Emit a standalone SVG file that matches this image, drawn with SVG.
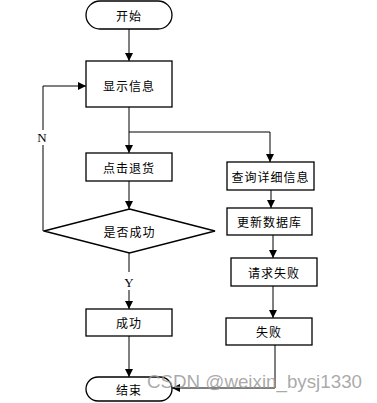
<svg xmlns="http://www.w3.org/2000/svg" width="377" height="403" viewBox="0 0 377 403">
<style>
.n{fill:#fff;stroke:#000;stroke-width:1.3}
.t{font-family:"Noto Sans CJK SC","Liberation Sans",sans-serif;font-size:12px;fill:#000;text-anchor:middle;dominant-baseline:central;letter-spacing:1px}
.l{font-family:"Liberation Serif",serif;font-size:13px;fill:#000;text-anchor:middle;dominant-baseline:central}
.c{fill:none;stroke:#000;stroke-width:1}
.w{font-family:"Liberation Sans",Arial,sans-serif;font-size:19px;fill:#9a9a9a;fill-opacity:0.85}
</style>
<defs>
<marker id="a" viewBox="0 0 10 10" refX="10" refY="5" markerWidth="8" markerHeight="8" markerUnits="userSpaceOnUse" orient="auto">
<path d="M0,0 L10,5 L0,10 z" fill="#000"/>
</marker>
</defs>
<rect width="377" height="403" fill="#fff"/>
<g id="connectors">
<path class="c" d="M129,29 V61" marker-end="url(#a)"/>
<path class="c" d="M129,107 V153" marker-end="url(#a)"/>
<path class="c" d="M129,132 H270 V162" marker-end="url(#a)"/>
<path class="c" d="M129,181 V209" marker-end="url(#a)"/>
<path class="c" d="M44,231 H43 V145"/>
<path class="c" d="M43,130 V86 H86" marker-end="url(#a)"/>
<path class="c" d="M129,253 V272"/>
<path class="c" d="M129,290 V309" marker-end="url(#a)"/>
<path class="c" d="M129,336 V377" marker-end="url(#a)"/>
<path class="c" d="M271,190 V208" marker-end="url(#a)"/>
<path class="c" d="M273,235 V258" marker-end="url(#a)"/>
<path class="c" d="M273,286 V318" marker-end="url(#a)"/>
<path class="c" d="M275,345 V388 H172" marker-end="url(#a)"/>
<text class="l" x="42" y="137">N</text>
<text class="l" x="129" y="282">Y</text>
</g>
<g id="start">
<rect class="n" x="86" y="1" width="86" height="28" rx="14"/>
<text class="t" x="129" y="15">开始</text>
</g>
<g id="show">
<rect class="n" x="86" y="61" width="86" height="46"/>
<text class="t" x="129" y="85">显示信息</text>
</g>
<g id="return">
<rect class="n" x="86" y="153" width="86" height="28"/>
<text class="t" x="129" y="167">点击退货</text>
</g>
<g id="decide">
<path class="n" d="M129.5,209 L215,231 L129.5,253 L44,231 z"/>
<text class="t" x="129.5" y="231">是否成功</text>
</g>
<g id="success">
<rect class="n" x="86" y="309" width="86" height="27"/>
<text class="t" x="129" y="322.5">成功</text>
</g>
<g id="end">
<rect class="n" x="86" y="377" width="86" height="24" rx="12"/>
<text class="t" x="129" y="389">结束</text>
</g>
<g id="query">
<rect class="n" x="227" y="162" width="87" height="28"/>
<text class="t" x="270.5" y="176">查询详细信息</text>
</g>
<g id="update">
<rect class="n" x="227" y="208" width="85" height="27"/>
<text class="t" x="269.5" y="221.5">更新数据库</text>
</g>
<g id="request">
<rect class="n" x="231" y="258" width="86" height="28"/>
<text class="t" x="274" y="272">请求失败</text>
</g>
<g id="fail">
<rect class="n" x="226" y="318" width="86" height="27"/>
<text class="t" x="269" y="331.5">失败</text>
</g>
<text class="w" x="147" y="388" textLength="215" lengthAdjust="spacingAndGlyphs">CSDN @weixin_bysj1330</text>
</svg>
